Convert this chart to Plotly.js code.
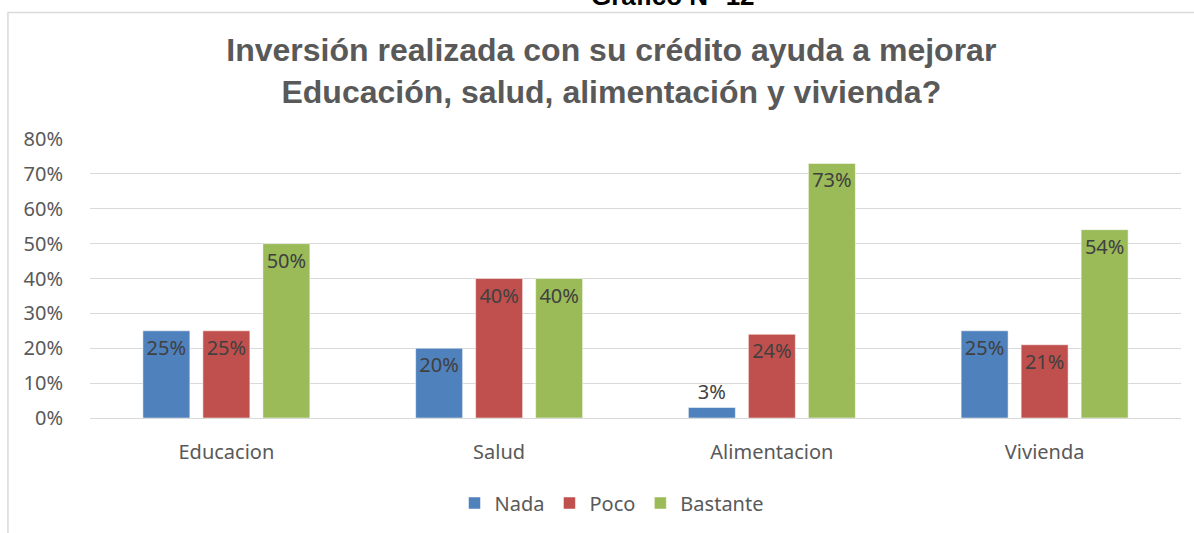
<!DOCTYPE html>
<html>
<head>
<meta charset="utf-8">
<script src="https://cdn.plot.ly/plotly-3.0.1.min.js"></script>
<style>html,body{margin:0;padding:0;background:#fff;}#chart{width:1194px;height:533px;}</style>
</head>
<body>
<div id="chart"></div>
<script>
const categories = ['Educacion', 'Salud', 'Alimentacion', 'Vivienda'];
const seriesNames = ['Nada', 'Poco', 'Bastante'];
const nada = [0.25, 0.20, 0.03, 0.25];
const poco = [0.25, 0.40, 0.24, 0.21];
const bastante = [0.50, 0.40, 0.73, 0.54];
const colors = ['#4f81bd', '#c0504d', '#9bbb59'];
const yTicks = [0, 0.1, 0.2, 0.3, 0.4, 0.5, 0.6, 0.7, 0.8];

const FONT = 'Noto Sans, sans-serif';
const series = [nada, poco, bastante];
const traces = series.map((vals, i) => ({
  type: 'bar',
  name: seriesNames[i],
  x: categories,
  y: vals,
  marker: {color: colors[i], line: {color: 'rgba(255,255,255,0.5)', width: 1}},
  text: vals.map(v => Math.round(v * 100) + '%'),
  textposition: vals.map(v => v < 0.08 ? 'outside' : 'inside'),
  insidetextanchor: 'end',
  textfont: {family: FONT, size: 20, color: '#404040'},
  outsidetextfont: {family: FONT, size: 20, color: '#404040'},
  insidetextfont: {family: FONT, size: 20, color: '#404040'},
  cliponaxis: false,
  hoverinfo: 'none'
}));

const layout = {
  width: 1194, height: 533,
  margin: {l: 90, r: 13, t: 139, b: 114},
  paper_bgcolor: '#ffffff', plot_bgcolor: '#ffffff',
  barmode: 'group', bargap: 0.34, bargroupgap: 0.217,
  font: {family: FONT, color: '#595959'},
  title: {
    text: 'Inversión realizada con su crédito ayuda a mejorar<br>Educación, salud, alimentación y vivienda?',
    font: {family: 'Liberation Sans, Arial, sans-serif', size: 32, color: '#595959', weight: 'bold'},
    x: 0.512, xanchor: 'center', y: 0.885, yanchor: 'top', yref: 'container'
  },
  xaxis: {
    type: 'category', showgrid: false, zeroline: false, showline: false,
    ticks: 'outside', ticklen: 16, tickcolor: 'rgba(0,0,0,0)',
    tickfont: {family: FONT, size: 20, color: '#595959'}, fixedrange: true
  },
  yaxis: {
    range: [0, 0.8], tickvals: yTicks, tickformat: '.0%',
    showgrid: true, gridcolor: '#d9d9d9', gridwidth: 1,
    zeroline: true, zerolinecolor: '#d9d9d9', zerolinewidth: 1,
    showline: false, ticks: 'outside', ticklen: 22, tickcolor: 'rgba(0,0,0,0)',
    tickfont: {family: FONT, size: 20, color: '#595959'}, fixedrange: true
  },
  legend: {
    orientation: 'h', x: 0.478, xanchor: 'center', y: -0.30, yanchor: 'middle',
    font: {family: FONT, size: 20, color: '#595959'},
    itemwidth: 30, traceorder: 'normal'
  },
  annotations: [{
    text: '<b>Grafico N° 12</b>', xref: 'paper', yref: 'paper',
    x: 0.534, y: 1.45, xanchor: 'center', yanchor: 'bottom', showarrow: false,
    font: {family: 'Liberation Sans, Arial, sans-serif', size: 26, color: '#000000'}
  }],
  shapes: [{
    type: 'rect', xref: 'paper', yref: 'paper',
    x0: -0.0752, x1: 1.2, y0: -1, y1: 1.4536,
    line: {color: '#d9d9d9', width: 1.5}, fillcolor: 'rgba(0,0,0,0)', layer: 'below'
  }]
};

Plotly.newPlot('chart', traces, layout, {displayModeBar: false, staticPlot: true});
</script>
</body>
</html>
